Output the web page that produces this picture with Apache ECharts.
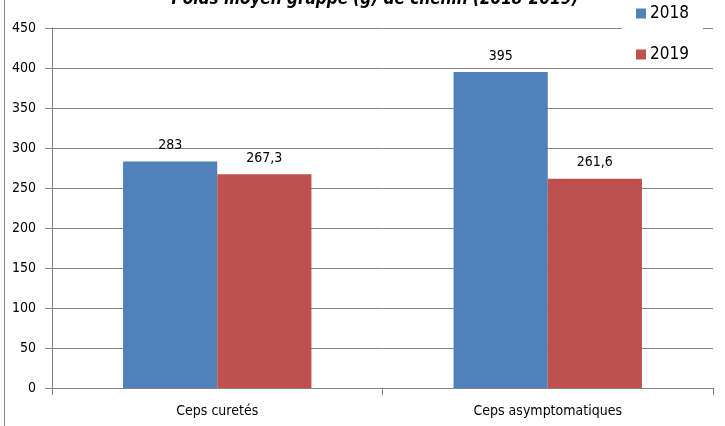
<!DOCTYPE html>
<html>
<head>
<meta charset="utf-8">
<script src="https://cdn.jsdelivr.net/npm/echarts@6/dist/echarts.min.js"></script>
<style>
  html, body { margin: 0; padding: 0; background: #fff; }
  #wrap { position: relative; width: 725px; height: 426px; }
  #edge { position: absolute; left: 4px; top: 0; width: 1px; height: 426px; background: #8c8c8c; }
  #chart { width: 725px; height: 426px; }
</style>
</head>
<body>
<div id="wrap">
  <div id="chart"></div>
  <div id="edge"></div>
</div>
<script>
var categories = ["Ceps curetés", "Ceps asymptomatiques"];
var years = ["2018", "2019"];
var values2018 = [283, 395];
var values2019 = [267.3, 261.6];
var yTicks = [0, 50, 100, 150, 200, 250, 300, 350, 400, 450];

var font = '"Liberation Sans Narrow", "DejaVu Sans Condensed", "Open Sans", sans-serif';
var chart = echarts.init(document.getElementById("chart"));

function frLabel(p) {
  return String(p.value).replace(".", ",");
}

chart.setOption({
  animation: false,
  textStyle: { fontFamily: font },
  title: {
    text: "Poids moyen grappe (g) de chenin (2018-2019)",
    left: 370,
    textAlign: "center",
    top: -14,
    textStyle: { fontFamily: font, fontSize: 17, fontWeight: "bold", fontStyle: "italic", color: "#000" }
  },
  legend: {
    data: years,
    orient: "vertical",
    left: 622,
    top: 3,
    width: 80,
    padding: [2, 14, 2, 14],
    backgroundColor: "#fff",
    itemWidth: 10,
    itemHeight: 10,
    itemGap: 24,
    icon: "rect",
    textStyle: { fontFamily: font, fontSize: 17, color: "#000", padding: [0, 0, 0, -1] }
  },
  grid: { left: 52, right: 12, top: 28, bottom: 38 },
  xAxis: {
    type: "category",
    data: categories,
    axisLine: { lineStyle: { color: "#868686" } },
    axisTick: { show: true, length: 7, lineStyle: { color: "#868686" } },
    axisLabel: { color: "#000", fontSize: 14, margin: 16 }
  },
  yAxis: {
    type: "value",
    min: yTicks[0],
    max: yTicks[yTicks.length - 1],
    interval: 50,
    axisLine: { show: true, lineStyle: { color: "#868686" } },
    axisTick: { show: true, length: 7, lineStyle: { color: "#868686" } },
    axisLabel: { color: "#000", fontSize: 14, margin: 16 },
    splitLine: { lineStyle: { color: "#868686" } }
  },
  series: [
    {
      name: years[0],
      type: "bar",
      data: values2018,
      barGap: "0%",
      barCategoryGap: "43%",
      itemStyle: { color: "#4F81BD" },
      label: { show: true, position: "top", distance: 9, color: "#000", fontSize: 14, fontFamily: font, formatter: frLabel },
      z: 3
    },
    {
      name: years[1],
      type: "bar",
      data: values2019,
      itemStyle: { color: "#C0504D" },
      label: { show: true, position: "top", distance: 9, color: "#000", fontSize: 14, fontFamily: font, formatter: frLabel },
      z: 3
    }
  ]
});
</script>
</body>
</html>
